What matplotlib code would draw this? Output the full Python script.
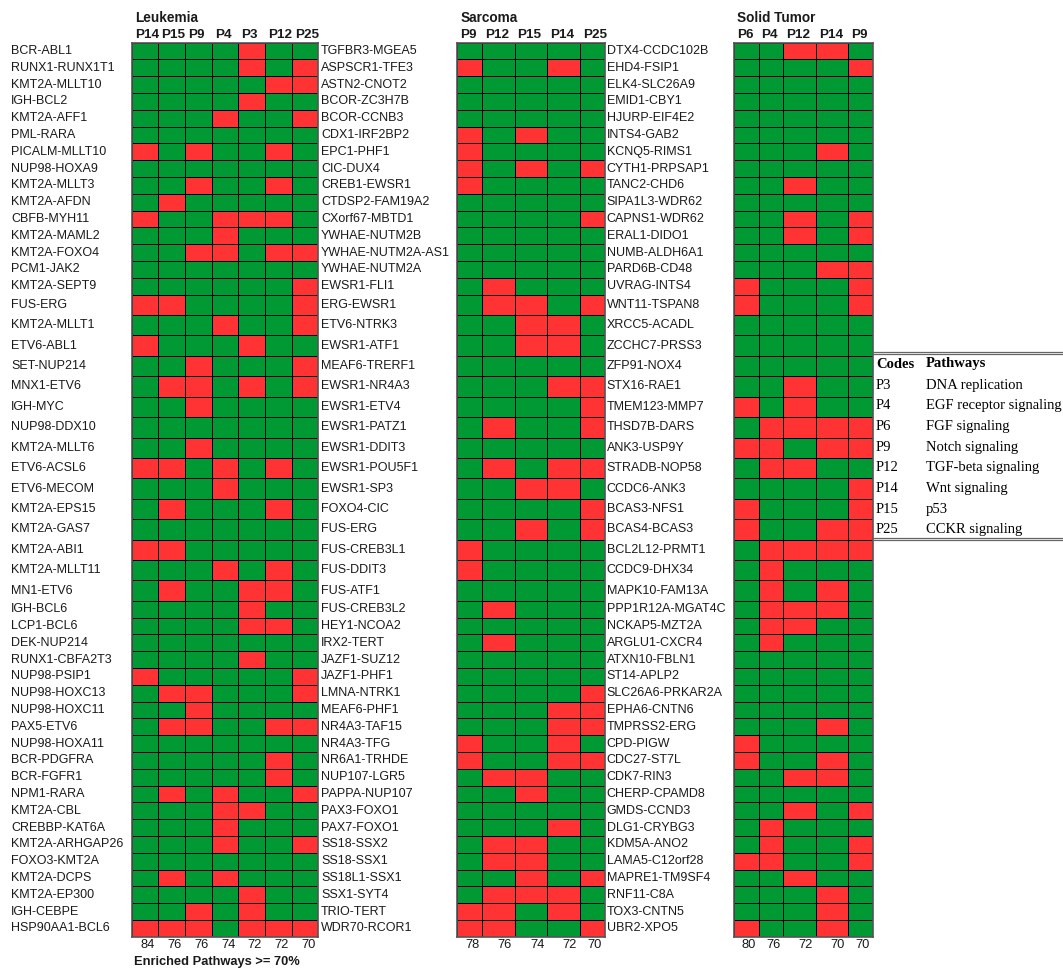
import matplotlib
matplotlib.use("Agg")
import matplotlib.pyplot as plt
import matplotlib.transforms as mtransforms
from matplotlib.colors import ListedColormap
from matplotlib.lines import Line2D
import numpy as np

plt.rcParams['font.family'] = ['Liberation Sans', 'DejaVu Sans']

# ---------------- data ----------------
leuk_codes = ["P14", "P15", "P9", "P4", "P3", "P12", "P25"]
leuk_pct = [84, 76, 76, 74, 72, 72, 70]
leuk_labels = [
    "BCR-ABL1", "RUNX1-RUNX1T1", "KMT2A-MLLT10", "IGH-BCL2", "KMT2A-AFF1", "PML-RARA",
    "PICALM-MLLT10", "NUP98-HOXA9", "KMT2A-MLLT3", "KMT2A-AFDN", "CBFB-MYH11", "KMT2A-MAML2",
    "KMT2A-FOXO4", "PCM1-JAK2", "KMT2A-SEPT9", "FUS-ERG", "KMT2A-MLLT1", "ETV6-ABL1",
    "SET-NUP214", "MNX1-ETV6", "IGH-MYC", "NUP98-DDX10", "KMT2A-MLLT6", "ETV6-ACSL6",
    "ETV6-MECOM", "KMT2A-EPS15", "KMT2A-GAS7", "KMT2A-ABI1", "KMT2A-MLLT11", "MN1-ETV6",
    "IGH-BCL6", "LCP1-BCL6", "DEK-NUP214", "RUNX1-CBFA2T3", "NUP98-PSIP1", "NUP98-HOXC13",
    "NUP98-HOXC11", "PAX5-ETV6", "NUP98-HOXA11", "BCR-PDGFRA", "BCR-FGFR1", "NPM1-RARA",
    "KMT2A-CBL", "CREBBP-KAT6A", "KMT2A-ARHGAP26", "FOXO3-KMT2A", "KMT2A-DCPS", "KMT2A-EP300",
    "IGH-CEBPE", "HSP90AA1-BCL6"]
# 1 = not enriched (red), 0 = enriched (green)
leuk_red = [
    "0000100", "0000101", "0000011", "0000100", "0001001", "0000000", "1010010", "0000000",
    "0010010", "0100000", "1001110", "0001000", "0011011", "0000000", "0000001", "1100001",
    "0001001", "1000100", "0010001", "0110101", "0010000", "0000000", "0010000", "1101010",
    "0001000", "0100010", "0000000", "1100000", "0001010", "0100110", "0000100", "0000110",
    "0000000", "0000100", "1000001", "0110001", "0010000", "0110011", "0000000", "0000010",
    "0000010", "0101001", "0001100", "0001000", "0001001", "0000000", "0101000", "0000100",
    "0010100", "1110111"]

sarc_codes = ["P9", "P12", "P15", "P14", "P25"]
sarc_pct = [78, 76, 74, 72, 70]
sarc_labels = [
    "TGFBR3-MGEA5", "ASPSCR1-TFE3", "ASTN2-CNOT2", "BCOR-ZC3H7B", "BCOR-CCNB3", "CDX1-IRF2BP2",
    "EPC1-PHF1", "CIC-DUX4", "CREB1-EWSR1", "CTDSP2-FAM19A2", "CXorf67-MBTD1", "YWHAE-NUTM2B",
    "YWHAE-NUTM2A-AS1", "YWHAE-NUTM2A", "EWSR1-FLI1", "ERG-EWSR1", "ETV6-NTRK3", "EWSR1-ATF1",
    "MEAF6-TRERF1", "EWSR1-NR4A3", "EWSR1-ETV4", "EWSR1-PATZ1", "EWSR1-DDIT3", "EWSR1-POU5F1",
    "EWSR1-SP3", "FOXO4-CIC", "FUS-ERG", "FUS-CREB3L1", "FUS-DDIT3", "FUS-ATF1",
    "FUS-CREB3L2", "HEY1-NCOA2", "IRX2-TERT", "JAZF1-SUZ12", "JAZF1-PHF1", "LMNA-NTRK1",
    "MEAF6-PHF1", "NR4A3-TAF15", "NR4A3-TFG", "NR6A1-TRHDE", "NUP107-LGR5", "PAPPA-NUP107",
    "PAX3-FOXO1", "PAX7-FOXO1", "SS18-SSX2", "SS18-SSX1", "SS18L1-SSX1", "SSX1-SYT4",
    "TRIO-TERT", "WDR70-RCOR1"]
sarc_red = [
    "00000", "10010", "00000", "00000", "00000", "10100", "10000", "10101", "10000", "00000",
    "00001", "00000", "00000", "00000", "01000", "01101", "00110", "00110", "00000", "00011",
    "00001", "01001", "00000", "01011", "00110", "00001", "00101", "10000", "10000", "00000",
    "01000", "00000", "01000", "00000", "00000", "00001", "00011", "00011", "10010", "10011",
    "01100", "00100", "00000", "00010", "01100", "01100", "00101", "01110", "11010", "11001"]

solid_codes = ["P6", "P4", "P12", "P14", "P9"]
solid_pct = [80, 76, 72, 70, 70]
solid_labels = [
    "DTX4-CCDC102B", "EHD4-FSIP1", "ELK4-SLC26A9", "EMID1-CBY1", "HJURP-EIF4E2", "INTS4-GAB2",
    "KCNQ5-RIMS1", "CYTH1-PRPSAP1", "TANC2-CHD6", "SIPA1L3-WDR62", "CAPNS1-WDR62", "ERAL1-DIDO1",
    "NUMB-ALDH6A1", "PARD6B-CD48", "UVRAG-INTS4", "WNT11-TSPAN8", "XRCC5-ACADL", "ZCCHC7-PRSS3",
    "ZFP91-NOX4", "STX16-RAE1", "TMEM123-MMP7", "THSD7B-DARS", "ANK3-USP9Y", "STRADB-NOP58",
    "CCDC6-ANK3", "BCAS3-NFS1", "BCAS4-BCAS3", "BCL2L12-PRMT1", "CCDC9-DHX34", "MAPK10-FAM13A",
    "PPP1R12A-MGAT4C", "NCKAP5-MZT2A", "ARGLU1-CXCR4", "ATXN10-FBLN1", "ST14-APLP2",
    "SLC26A6-PRKAR2A", "EPHA6-CNTN6", "TMPRSS2-ERG", "CPD-PIGW", "CDC27-ST7L", "CDK7-RIN3",
    "CHERP-CPAMD8", "GMDS-CCND3", "DLG1-CRYBG3", "KDM5A-ANO2", "LAMA5-C12orf28",
    "MAPRE1-TM9SF4", "RNF11-C8A", "TOX3-CNTN5", "UBR2-XPO5"]
solid_red = [
    "00110", "00001", "00000", "00000", "00000", "00000", "00010", "00000", "00100", "00000",
    "00101", "00101", "00000", "00011", "10001", "10001", "00000", "00000", "00000", "00100",
    "10100", "01111", "11011", "01100", "00001", "10001", "10011", "01111", "01000", "01010",
    "01110", "01100", "01000", "00000", "00000", "00000", "00000", "00010", "10000", "10010",
    "00110", "00000", "00101", "01000", "01001", "11001", "00100", "00010", "00010", "10010"]

legend_codes = ["P3", "P4", "P6", "P9", "P12", "P14", "P15", "P25"]
legend_paths = ["DNA replication", "EGF receptor signaling", "FGF signaling", "Notch signaling",
                "TGF-beta signaling", "Wnt signaling", "p53", "CCKR signaling"]

# ---------------- layout ----------------
W, H = 1063, 969
fig = plt.figure(figsize=(W / 100, H / 100), dpi=100)

GREEN, RED = '#009933', '#FF3333'
cmap = ListedColormap([GREEN, RED])
TXT = '#1a1a1a'

row_h = np.array([1.0] * 15 + [1.215] * 15 + [1.0] * 20)
y_edges = np.concatenate([[0], np.cumsum(row_h)])
y_cent = (y_edges[:-1] + y_edges[1:]) / 2
GRID_TOP, GRID_BOT = 42.7, 936.7

panels = [
    dict(title="Leukemia", codes=leuk_codes, pct=leuk_pct, labels=leuk_labels, red=leuk_red,
         widths=[1] * 7, x0=131.7, x1=318.3, label_x=11),
    dict(title="Sarcoma", codes=sarc_codes, pct=sarc_pct, labels=sarc_labels, red=sarc_red,
         widths=[1, 1.3, 1.32, 1.3, 1], x0=457.3, x1=604.7, label_x=321),
    dict(title="Solid Tumor", codes=solid_codes, pct=solid_pct, labels=solid_labels, red=solid_red,
         widths=[1, 1, 1.3, 1.3, 1], x0=733.7, x1=873.0, label_x=606.5),
]

for p in panels:
    ax = fig.add_axes([p['x0'] / W, 1 - GRID_BOT / H, (p['x1'] - p['x0']) / W,
                       (GRID_BOT - GRID_TOP) / H])
    x_edges = np.concatenate([[0], np.cumsum(p['widths'])])
    M = np.array([[int(c) for c in s] for s in p['red']])
    ax.pcolormesh(x_edges, y_edges, M, cmap=cmap, vmin=0, vmax=1,
                  edgecolors='black', linewidth=0.7)
    ax.set_xlim(x_edges[0], x_edges[-1])
    ax.set_ylim(y_edges[-1], y_edges[0])
    ax.set_xticks([])
    ax.set_yticks([])
    for sp in ax.spines.values():
        sp.set_color('#555555')
        sp.set_linewidth(1.2)

    t_top = mtransforms.blended_transform_factory(ax.transData, fig.transFigure)
    t_head = mtransforms.offset_copy(t_top, fig=fig, x=3, y=0, units='dots')
    t_num = mtransforms.offset_copy(t_top, fig=fig, x=-3, y=0, units='dots')
    for xl, code in zip(x_edges[:-1], p['codes']):
        ax.text(xl, 1 - 35 / H, code, transform=t_head, ha='left', va='center',
                fontsize=9.7, fontweight='bold', color=TXT)
    for xr, v in zip(x_edges[1:], p['pct']):
        ax.text(xr, 1 - 945 / H, str(v), transform=t_num, ha='right', va='center',
                fontsize=9.3, color=TXT)
    t_lab = mtransforms.blended_transform_factory(fig.transFigure, ax.transData)
    for yc, lab in zip(y_cent, p['labels']):
        ax.text(p['label_x'] / W, yc, lab, transform=t_lab, ha='left', va='center',
                fontsize=9, color=TXT)
    fig.text((p['x0'] + 3) / W, 1 - 18 / H, p['title'], ha='left', va='center',
             fontsize=9.8, fontweight='bold', color=TXT)

fig.text(134 / W, 1 - 962 / H, "Enriched Pathways >= 70%", ha='left', va='center',
         fontsize=9.3, fontweight='bold', color=TXT)

# ---------------- legend table ----------------
for yy in (351.5, 354.0, 537.5, 540.0):
    fig.add_artist(Line2D([873 / W, 1.0], [1 - yy / H, 1 - yy / H], transform=fig.transFigure,
                          color='#666666', linewidth=0.9))
serif = ['Liberation Serif', 'DejaVu Serif']
fig.text(876 / W, 1 - 364 / H, "Codes", family=serif, fontsize=10.5, fontweight='bold',
         ha='left', va='center', color='black')
fig.text(926 / W, 1 - 364 / H, "Pathways", family=serif, fontsize=10.5, fontweight='bold',
         ha='left', va='center', color='black')
for i, (c, pth) in enumerate(zip(legend_codes, legend_paths)):
    yy = 385 + i * 20.7
    fig.text(876 / W, 1 - yy / H, c, family=serif, fontsize=10.5, ha='left', va='center',
             color='black')
    fig.text(926 / W, 1 - yy / H, pth, family=serif, fontsize=10.5, ha='left', va='center',
             color='black')

fig.savefig("out.png", dpi=100)
